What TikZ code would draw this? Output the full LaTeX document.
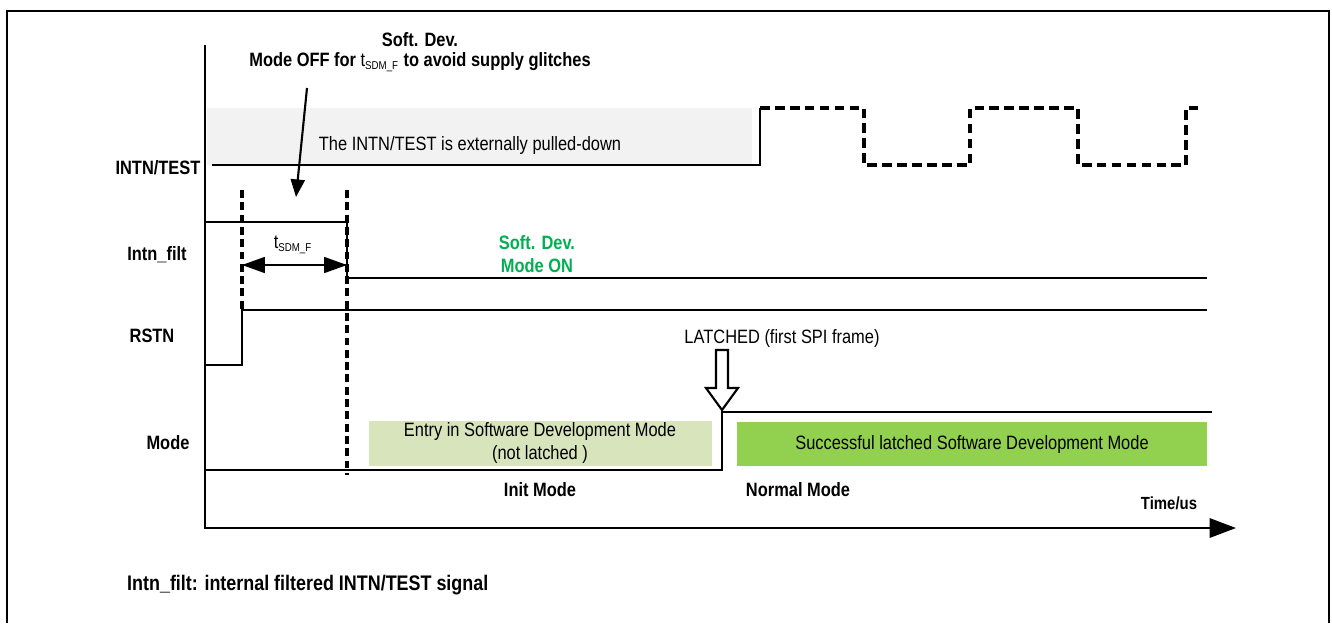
\documentclass[tikz,border=0pt]{standalone}
\usepackage{fontspec}
\setmainfont{Liberation Sans}[FakeStretch=0.85]
\usetikzlibrary{arrows.meta}
\definecolor{pullGray}{RGB}{242,242,242}
\definecolor{entryGreen}{RGB}{216,228,188}
\definecolor{latchGreen}{RGB}{146,208,80}
\definecolor{onGreen}{RGB}{0,176,80}

\begin{document}
\begin{tikzpicture}[x=0.02cm,y=-0.02cm,
  wave/.style={line width=1.2pt},
  dwave/.style={line width=2pt,dash pattern=on 5.5pt off 3pt},
  guide/.style={line width=2pt,dash pattern=on 4.5pt off 2.5pt},
  signame/.style={font=\fontsize{11}{13}\selectfont\bfseries},
  note/.style={font=\fontsize{11}{13}\selectfont},
  bnote/.style={font=\fontsize{11}{13}\selectfont\bfseries},
]
  \useasboundingbox (0,0) rectangle (1332,623);
  \draw[line width=0.8pt] (7,623) -- (7,11) -- (1329,11) -- (1329,623);

  \fill[pullGray]   (207,108) rectangle (752,165);
  \fill[entryGreen] (369,421) rectangle (712,466);
  \fill[latchGreen] (737,422) rectangle (1207,466);

  \node[note]  (pull)   at (470,145) {The INTN/TEST is externally pulled-down};
  \node[note,align=center] (entry) at (540,443) {Entry in Software Development Mode\\(not latched )};
  \node[note]  (latch)  at (972,444) {Successful latched Software Development Mode};

  \node[signame] (intn) at (158,168) {INTN/TEST};
  \node[signame] (filt) at (157,255) {Intn\_filt};
  \node[signame] (rstn) at (152,336) {RSTN};
  \node[signame] (mode) at (168,443) {Mode};

  \node[signame] (soft) at (420,40) {Soft. Dev.};
  \node[signame] (off)  at (420,62) {Mode OFF for {\mdseries t\textsubscript{\fontsize{6.5}{7}\selectfont SDM\_F}} to avoid supply glitches};
  \node[signame,text=onGreen,align=center] (on) at (537,254) {Soft. Dev.\\Mode ON};
  \node[note]  (tsdm)   at (293,245) {t\textsubscript{\fontsize{6.5}{7}\selectfont SDM\_F}};
  \node[note]  (first)  at (782,338) {LATCHED (first SPI frame)};
  \node[bnote] (init)   at (540,490) {Init Mode};
  \node[bnote] (normal) at (798,490) {Normal Mode};
  \node[bnote,font=\fontsize{10}{12}\selectfont\bfseries] (time) at (1169,503) {Time/us};
  \node[bnote,font=\fontsize{12}{14}\selectfont\bfseries,anchor=west] (legend) at (121,585) {Intn\_filt: internal filtered INTN/TEST signal};

  \draw[line width=1.2pt,-{Triangle[length=15pt,width=11pt]}] (205,45) -- (205,528) -- (1236,528);

  \draw[wave]  (212,165) -- (760,165) -- (760,108);
  \draw[dwave] (760,108) -- (864,108) -- (864,165) -- (970,165) -- (970,108)
               -- (1078,108) -- (1078,165) -- (1186,165) -- (1186,108) -- (1198,108);
  \draw[wave]  (205,222) -- (347,222) -- (347,278) -- (1207,278);
  \draw[wave]  (205,365) -- (242,365) -- (242,310) -- (1207,310);
  \draw[wave]  (205,470) -- (722,470) -- (722,412) -- (1212,412);

  \draw[guide] (242,190) -- (242,310);
  \draw[guide] (347,190) -- (347,475);

  \coordinate (tStart) at (242,265);
  \coordinate (tEnd)   at (347,265);
  \draw[line width=1.2pt,{Triangle[length=13pt,width=9pt]}-{Triangle[length=13pt,width=9pt]}] (tStart) -- (tEnd);

  \coordinate (offStart) at (307,88);
  \coordinate (offTip)   at (296,197);
  \draw[line width=1.2pt,-{Triangle[length=10pt,width=8pt]}] (offStart) -- (offTip);

  \draw[line width=1.2pt,fill=white] (716,350) -- (728,350) -- (728,388) -- (738,388)
    -- (722,410) -- (706,388) -- (716,388) -- cycle;
\end{tikzpicture}
\end{document}
